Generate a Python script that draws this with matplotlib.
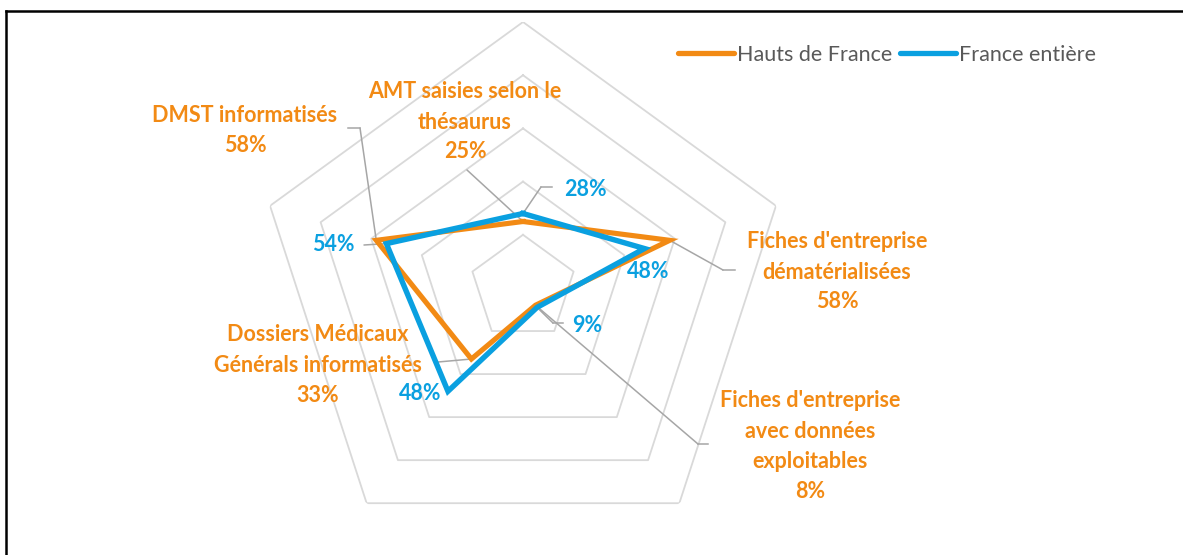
import numpy as np
import matplotlib
matplotlib.use("Agg")
import matplotlib.pyplot as plt
from matplotlib.lines import Line2D

# Data (clockwise from top)
categories = [
    "AMT saisies selon le\nthésaurus",
    "Fiches d'entreprise\ndématérialisées",
    "Fiches d'entreprise\navec données\nexploitables",
    "Dossiers Médicaux\nGénérals informatisés",
    "DMST informatisés",
]
hauts_de_france = [25, 58, 8, 33, 58]
france_entiere = [28, 48, 9, 48, 54]
series_names = ["Hauts de France", "France entière"]
ring_levels = [20, 40, 60, 80, 100]

ORANGE = "#F28A14"
BLUE = "#0AA0E0"
GRID = "#D9D9D9"
LEADER = "#A6A6A6"
FONT = "Lato"

W, H = 1183, 555
fig = plt.figure(figsize=(W / 100, H / 100), dpi=100)


def fx(x):
    return x / W


def fy(y):
    return 1 - y / H


# polar axes centred at (523, 288) px, radius 266 px
cx, cy, R = 523, 288, 266
ax = fig.add_axes([fx(cx - R), fy(cy + R), 2 * R / W, 2 * R / H], projection="polar")
ax.set_theta_offset(np.pi / 2)
ax.set_theta_direction(-1)
ax.set_ylim(0, 100)
ax.grid(False)
ax.set_xticks([])
ax.set_yticks([])
ax.spines["polar"].set_visible(False)
ax.patch.set_alpha(0)

n = len(categories)
theta = np.arange(n) * 2 * np.pi / n
theta_c = np.append(theta, theta[0])

# pentagon grid
for lvl in ring_levels:
    ax.plot(theta_c, [lvl] * (n + 1), color=GRID, lw=1.3, zorder=1)

hdf = np.append(hauts_de_france, hauts_de_france[0])
fr = np.append(france_entiere, france_entiere[0])
ax.plot(theta_c, hdf, color=ORANGE, lw=3.7, solid_joinstyle="miter", zorder=3)
ax.plot(theta_c, fr, color=BLUE, lw=3.9, solid_joinstyle="miter", zorder=4)


def leader(i, val, elbow, end):
    # diagonal from data point to elbow, then short horizontal piece
    ax.annotate("", xy=(theta[i], val), xycoords="data",
                xytext=(fx(elbow[0]), fy(elbow[1])), textcoords="figure fraction",
                arrowprops=dict(arrowstyle="-", color=LEADER, lw=1.1,
                                shrinkA=0, shrinkB=0), zorder=2)
    fig.add_artist(Line2D([fx(elbow[0]), fx(end)], [fy(elbow[1])] * 2,
                          color=LEADER, lw=1.1, transform=fig.transFigure))


lab_kw = dict(fontsize=15.5, fontweight="bold", family=FONT, ha="center",
              va="center", linespacing=1.55)
LINE = 30  # px between label lines

# Hauts de France labels: category name block + value line underneath
hdf_pos = [(465, 122), (837, 272), (810, 446), (318, 365), (245, 130)]
for i in range(n):
    k = categories[i].count("\n") + 1
    x, c = hdf_pos[i]
    fig.text(fx(x), fy(c - LINE / 2), categories[i], color=ORANGE, **lab_kw)
    fig.text(fx(x), fy(c + LINE * k / 2), f"{hauts_de_france[i]}%",
             color=ORANGE, **lab_kw)

# France entière value labels
fr_pos = [(585, 189), (648, 272), (587, 325), (420, 394), (333, 245)]
for i in range(n):
    fig.text(fx(fr_pos[i][0]), fy(fr_pos[i][1]), f"{france_entiere[i]}%",
             color=BLUE, **lab_kw)

# leader lines
leader(0, hauts_de_france[0], (467, 170), 467)
leader(0, france_entiere[0], (541, 187), 552)
leader(1, hauts_de_france[1], (723, 270), 735)
leader(2, france_entiere[2], (553, 323), 563)
leader(2, hauts_de_france[2], (698, 444), 708)
leader(3, hauts_de_france[3], (438, 362), 438)
leader(4, hauts_de_france[4], (360, 128), 348)
leader(4, france_entiere[4], (364, 245), 364)

# legend
leg_handles = [Line2D([], [], color=ORANGE, lw=3.8, solid_capstyle="round"),
               Line2D([], [], color=BLUE, lw=3.8, solid_capstyle="round")]
fig.legend(leg_handles, series_names, loc="center", bbox_to_anchor=(fx(887), fy(55)),
           ncol=2, frameon=False, handlelength=2.6, handletextpad=0.15,
           columnspacing=0.35, prop=dict(family=FONT, size=15.5),
           labelcolor="#595959")

# frame around the chart (top and left edges visible)
fig.add_artist(Line2D([fx(6), 1], [fy(11), fy(11)], color="black", lw=1.8,
                      transform=fig.transFigure))
fig.add_artist(Line2D([fx(6), fx(6)], [fy(11), 0], color="black", lw=1.8,
                      transform=fig.transFigure))

fig.savefig("out.png", dpi=100)
